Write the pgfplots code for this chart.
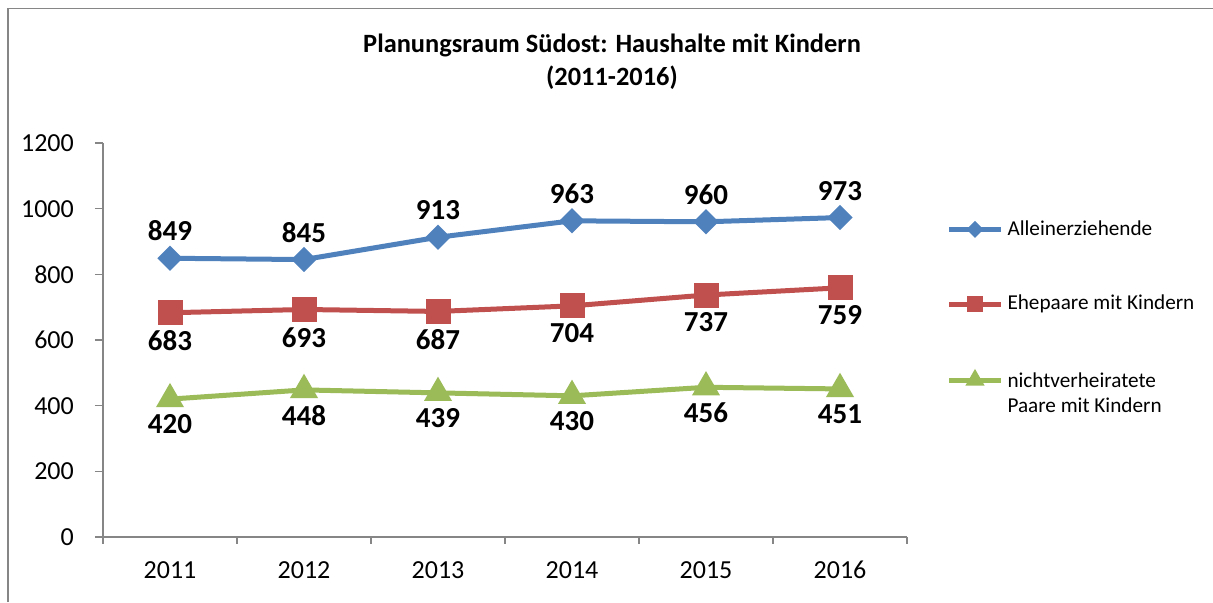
\documentclass[border=0pt]{standalone}
\usepackage{fontspec}
\setmainfont{Carlito}
\usepackage{pgfplots}
\pgfplotsset{compat=1.18}

\definecolor{sblue}{HTML}{4F81BD}
\definecolor{sred}{HTML}{C0504D}
\definecolor{sgreen}{HTML}{9BBB59}
\definecolor{axgray}{HTML}{868686}

\begin{document}
\begin{tikzpicture}
\useasboundingbox (0,0) rectangle (606.5pt,301pt);
% chart frame (top and left edge visible)
\draw[axgray, line width=0.8pt] (4pt,0) -- (4pt,296.8pt) -- (606.5pt,296.8pt);

\begin{axis}[
    at={(51.5pt,32.5pt)}, anchor=south west,
    scale only axis,
    width=402pt, height=197pt,
    xmin=-0.5, xmax=5.5,
    ymin=0, ymax=1200,
    xtick={0,...,5},
    xticklabels={2011,2012,2013,2014,2015,2016},
    minor xtick={-0.5,0.5,...,5.5},
    ytick={0,200,...,1200},
    axis x line*=bottom, axis y line*=left,
    axis line style={axgray, line width=0.8pt},
    major x tick style={draw=none},
    minor x tick style={axgray, line width=0.8pt},
    major y tick style={axgray, line width=0.8pt},
    tick align=outside,
    major tick length=4pt, minor tick length=3.5pt,
    xticklabel style={yshift=-3.5pt},
    yticklabel style={xshift=-6pt},
    tick label style={font=\fontsize{13}{15}\selectfont},
    /pgf/number format/assume math mode=true,
    /pgf/number format/1000 sep={},
    line width=2.5pt,
    nodes near coords,
    nodes near coords style={font=\bfseries\fontsize{14.5}{16}\selectfont, text=black},
    legend style={draw=none, fill=none, at={(1.046,0.82)}, anchor=north west,
        font=\fontsize{10.6}{12.5}\selectfont, row sep=24.5pt,
        cells={anchor=west}, inner sep=0pt},
    legend image code/.code={\draw[mark repeat=2,mark phase=2, every mark/.append style={scale=0.55}] plot coordinates {(0pt,0pt) (13pt,0pt) (26pt,0pt)};},
    legend cell align=left,
]
\addplot[sblue, mark=square*, mark size=3.2pt, mark options={rotate=45, fill=sblue},
    every node near coord/.append style={anchor=south, yshift=4pt}]
    coordinates {(0,849) (1,845) (2,913) (3,963) (4,960) (5,973)};
\addlegendentry{Alleinerziehende}
\addplot[sred, mark=square*, mark size=5pt, mark options={fill=sred},
    every node near coord/.append style={anchor=north, yshift=-4.3pt}]
    coordinates {(0,683) (1,693) (2,687) (3,704) (4,737) (5,759)};
\addlegendentry{Ehepaare mit Kindern}
\addplot[sgreen, mark=triangle*, mark size=5.6pt, mark options={fill=sgreen},
    every node near coord/.append style={anchor=north, yshift=-3.3pt}]
    coordinates {(0,420) (1,448) (2,439) (3,430) (4,456) (5,451)};
\addlegendentry{\begin{tabular}[t]{@{}l@{}}nichtverheiratete\\Paare mit Kindern\end{tabular}}
\end{axis}

\node[font=\bfseries\fontsize{13.2}{16.5}\selectfont, align=center] at (306pt,270pt)
    {Planungsraum Südost: Haushalte mit Kindern\\(2011-2016)};
\end{tikzpicture}
\end{document}
